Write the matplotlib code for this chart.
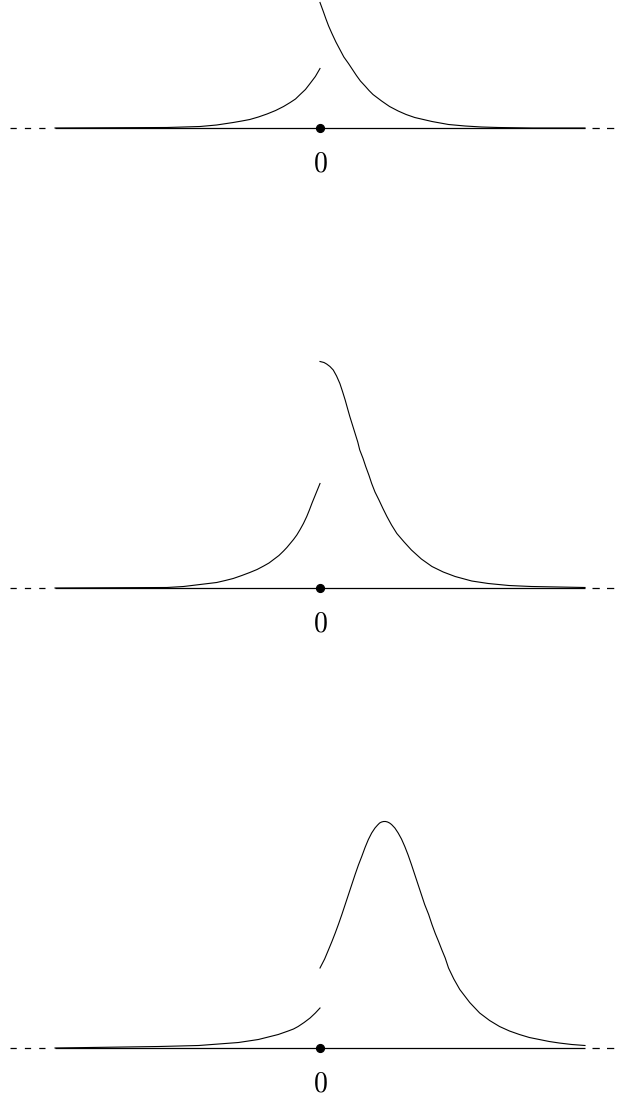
import matplotlib
matplotlib.use("Agg")
from matplotlib import pyplot as plt

plt.rcParams['mathtext.fontset'] = 'cm'

# values (x: half axis = 4 units, y: arbitrary height units)
p1_left_x = [-4.0, -2.31, -2.06, -1.81, -1.56, -1.31, -1.18, -1.06, -0.93, -0.80, -0.67, -0.55, -0.45, -0.37,
             -0.30, -0.22, -0.15, -0.07, 0.0]
p1_left_y = [0.0, 0.01, 0.02, 0.03, 0.06, 0.11, 0.14, 0.17, 0.22, 0.28, 0.35, 0.43, 0.51, 0.58,
             0.67, 0.77, 0.89, 1.03, 1.19]
p1_right_x = [0.0, 0.05, 0.09, 0.13, 0.18, 0.24, 0.30, 0.36, 0.43, 0.49, 0.55, 0.61, 0.68, 0.74, 0.80, 0.87, 0.93,
              1.05, 1.18, 1.30, 1.43, 1.56, 1.69, 1.94, 2.19, 2.44, 2.69, 3.2, 4.0]
p1_right_y = [2.51, 2.33, 2.18, 2.04, 1.89, 1.72, 1.57, 1.42, 1.29, 1.17, 1.05, 0.94, 0.84, 0.75, 0.67, 0.60, 0.54,
              0.43, 0.34, 0.27, 0.21, 0.17, 0.13, 0.07, 0.04, 0.02, 0.01, 0.0, 0.0]

p2_left_x = [-4.0, -2.31, -2.06, -1.81, -1.56, -1.43, -1.31, -1.18, -1.06, -0.95, -0.85, -0.77, -0.70, -0.62,
             -0.55, -0.50, -0.45, -0.40, -0.35, -0.30, -0.25, -0.20, -0.16, -0.12, -0.08, -0.04, 0.0]
p2_left_y = [0.0, 0.01, 0.03, 0.07, 0.11, 0.15, 0.19, 0.25, 0.31, 0.37, 0.44, 0.50, 0.57, 0.65,
             0.74, 0.81, 0.89, 0.97, 1.06, 1.17, 1.29, 1.43, 1.56, 1.70, 1.83, 1.96, 2.09]
p2_right_x = [0.0, 0.03, 0.06, 0.10, 0.15, 0.20, 0.25, 0.30, 0.34, 0.38, 0.42, 0.45, 0.49, 0.53, 0.57, 0.60, 0.65,
              0.69, 0.74, 0.78, 0.83, 0.89, 0.95, 1.01, 1.08, 1.16, 1.27, 1.38, 1.53, 1.69, 1.86, 2.04, 2.29,
              2.54, 2.85, 3.19, 3.6, 4.0]
p2_right_y = [4.53, 4.52, 4.51, 4.48, 4.43, 4.36, 4.24, 4.09, 3.93, 3.76, 3.57, 3.43, 3.26, 3.09, 2.92, 2.76, 2.59,
              2.43, 2.25, 2.09, 1.92, 1.76, 1.59, 1.43, 1.26, 1.09, 0.92, 0.76, 0.58, 0.43, 0.32, 0.23, 0.14,
              0.09, 0.05, 0.03, 0.02, 0.01]

p3_left_x = [-4.0, -2.43, -2.13, -1.83, -1.53, -1.23, -1.08, -0.93, -0.78, -0.63, -0.48, -0.40, -0.33, -0.24,
             -0.15, -0.07, 0.0]
p3_left_y = [0.0, 0.03, 0.04, 0.05, 0.08, 0.11, 0.14, 0.17, 0.22, 0.27, 0.34, 0.38, 0.43, 0.51,
             0.60, 0.70, 0.80]
p3_right_x = [0.0, 0.07, 0.13, 0.18, 0.23, 0.28, 0.33, 0.38, 0.43, 0.48, 0.53, 0.58, 0.63, 0.68, 0.73, 0.78, 0.83,
              0.87, 0.90, 0.93, 0.96, 0.99, 1.02, 1.05, 1.08, 1.13, 1.18, 1.23, 1.28, 1.33, 1.38, 1.43, 1.48,
              1.53, 1.58, 1.64, 1.69, 1.74, 1.79, 1.84, 1.89, 1.94, 2.02, 2.11, 2.26, 2.41, 2.56, 2.71, 2.86,
              3.01, 3.16, 3.31, 3.46, 3.61, 3.8, 4.0]
p3_right_y = [1.60, 1.78, 1.97, 2.13, 2.30, 2.48, 2.67, 2.87, 3.07, 3.27, 3.47, 3.66, 3.83, 4.01, 4.17, 4.30, 4.40,
              4.46, 4.50, 4.52, 4.53, 4.53, 4.52, 4.50, 4.47, 4.40, 4.30, 4.18, 4.03, 3.86, 3.67, 3.47, 3.27,
              3.07, 2.87, 2.67, 2.47, 2.29, 2.13, 1.96, 1.80, 1.60, 1.38, 1.17, 0.91, 0.70, 0.55, 0.43, 0.34,
              0.27, 0.21, 0.17, 0.13, 0.10, 0.07, 0.05]

panels = [
    (p1_left_x, p1_left_y, p1_right_x, p1_right_y),
    (p2_left_x, p2_left_y, p2_right_x, p2_right_y),
    (p3_left_x, p3_left_y, p3_right_x, p3_right_y),
]
tick_label = '$0$'

W, H = 623, 1099
fig = plt.figure(figsize=(W / 100, H / 100), dpi=100)
baselines = [128, 588, 1048]  # pixel rows of the three axis lines
px_per_unit = 50.0

for (lx, ly, rx, ry), b in zip(panels, baselines):
    top, bottom = b - 240, b + 60
    ax = fig.add_axes([0, (H - bottom) / H, 1, (bottom - top) / H])
    ax.set_xlim(-320 / 66.25, (W - 320) / 66.25)
    ax.set_ylim(-60 / px_per_unit, 240 / px_per_unit)
    ax.axis('off')

    # number line
    ax.plot([-4.0, 4.0], [0, 0], color='black', lw=0.9, solid_capstyle='butt')
    ax.plot([-4.68, -4.12], [0, 0], color='black', lw=0.9, dashes=(5.0, 6.5), dash_capstyle='butt')
    ax.plot([4.106, 4.47], [0, 0], color='black', lw=0.9, dashes=(5.8, 5.8), dash_capstyle='butt')

    ax.plot(lx, ly, color='black', lw=0.8, solid_joinstyle='round')
    ax.plot(rx, ry, color='black', lw=0.8, solid_joinstyle='round')

    ax.plot([0], [0], 'o', color='black', markersize=5.6, zorder=5)
    ax.text(0, -35 / px_per_unit, tick_label, ha='center', va='center', fontsize=20)

fig.savefig('out.png', dpi=100)
